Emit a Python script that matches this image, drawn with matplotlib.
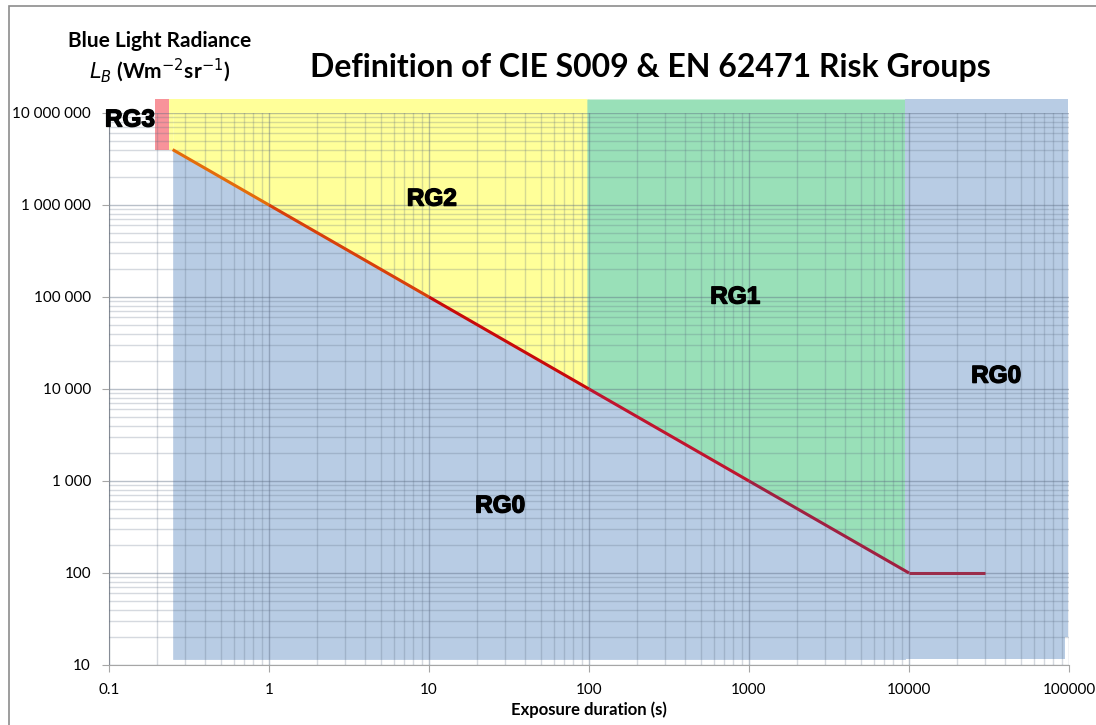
import numpy as np
import matplotlib.pyplot as plt
import matplotlib.patheffects as pe
from matplotlib.patches import Rectangle

# limit line L_B = 1e6 / t  (t in s), flat at 100 after 10 000 s
t_lim = [0.25, 1, 10, 100, 1000, 10000, 30000]
L_lim = [4000000, 1000000, 100000, 10000, 1000, 100, 100]
seg_colors = ['#E46C0A', '#D8400A', '#C80A0A', '#C0142E', '#A02040', '#9B2D4A']

# risk group areas (x range, y range)
rg3_x = [0.195, 0.238]
rg3_y = [4000000, 14200000]
rg2_x = [0.238, 97]
rg1_x = [97, 9500]
rg0_right_x = [9500, 100000]
top_y = 14200000
bottom_y = 11.5

rg_labels = ["RG3", "RG2", "RG1", "RG0", "RG0"]
rg_pos = [(0.135, 8400000), (10.4, 1160000), (818, 100000), (35000, 13800), (27.8, 535)]

xticks = [0.1, 1, 10, 100, 1000, 10000, 100000]
xtick_labels = ["0.1", "1", "10", "100", "1000", "10000", "100000"]
yticks = [10, 100, 1000, 10000, 100000, 1000000, 10000000]
ytick_labels = ["10", "100", "1 000", "10 000", "100 000", "1 000 000", "10 000 000"]

plt.rcParams['font.family'] = ['Lato', 'DejaVu Sans']

fig = plt.figure(figsize=(10.96, 7.25), dpi=100)
ax = fig.add_axes([109/1096, 1 - 665/725, 960/1096, 552/725])
ax.set_xscale('log')
ax.set_yscale('log')
ax.set_xlim(0.1, 100000)
ax.set_ylim(10, 10000000)

# fills
blue = '#B8CCE4'
yellow = '#FFFF99'
ax.fill_between(rg2_x, [top_y, top_y], [1e7, 1e7], color=yellow, lw=0, zorder=0, clip_on=False)
ax.fill_between([rg2_x[0], t_lim[0]], [top_y, top_y], [L_lim[0], L_lim[0]], color=yellow, lw=0, zorder=0)
ax.fill_between(t_lim[:4], [top_y] * 4, L_lim[:4], color=yellow, lw=0, zorder=0, clip_on=False)
ax.fill_between([rg1_x[0], 100, 1000, rg1_x[1]], [top_y] * 4,
                [L_lim[3] * 100 / rg1_x[0], L_lim[3], L_lim[4], 1e6 / rg1_x[1]],
                color='#99E0B8', lw=0, zorder=0, clip_on=False)
ax.fill_between(t_lim[:6] + [rg0_right_x[0]], [bottom_y] * 7, L_lim[:6] + [1e6 / rg0_right_x[0]],
                color=blue, lw=0, zorder=0)
ax.fill_between([rg0_right_x[0], 95000], [bottom_y, bottom_y], [top_y, top_y], color=blue, lw=0, zorder=0, clip_on=False)
ax.fill_between([95000, rg0_right_x[1] * 0.985], [20, 20], [top_y, top_y], color=blue, lw=0, zorder=0, clip_on=False)
ax.fill_between(rg3_x, [rg3_y[0]] * 2, [rg3_y[1]] * 2, color='#F8939A', lw=0, zorder=0, clip_on=False)

# grid over fills
ax.set_axisbelow(False)
ax.grid(which='major', color='#5A6A80', alpha=0.42, lw=1.0, zorder=1)
ax.grid(which='minor', color='#5A6A80', alpha=0.25, lw=1.0, zorder=1)

# limit line
for i in range(len(t_lim) - 1):
    ax.plot(t_lim[i:i + 2], L_lim[i:i + 2], color=seg_colors[i], lw=2.2, zorder=3, solid_capstyle='butt')

for lab, (x, y) in zip(rg_labels, rg_pos):
    ax.text(x, y, lab, family='Liberation Sans', fontweight='bold', fontsize=17.5,
            ha='center', va='center', zorder=4,
            path_effects=[pe.withStroke(linewidth=1.0, foreground='black')])

ax.set_xticks(xticks, labels=xtick_labels)
ax.set_yticks(yticks, labels=ytick_labels)
ax.tick_params(which='major', length=5, color='#A6A6A6', labelsize=11, pad=8)
ax.tick_params(which='minor', length=0)
for s in ['top', 'right']:
    ax.spines[s].set_visible(False)
for s in ['left', 'bottom']:
    ax.spines[s].set_color('#A6A6A6')

ax.set_xlabel("Exposure duration (s)", fontweight='bold', fontsize=12, labelpad=3)

fig.text(650/1096, 1 - 68/725, "Definition of CIE S009 & EN 62471 Risk Groups",
         fontsize=23, fontweight='bold', ha='center', va='center')
fig.text(160/1096, 1 - 41/725, "Blue Light Radiance", fontsize=15, fontweight='bold',
         ha='center', va='center')
fig.text(160/1096, 1 - 71/725, r"$\it{L_B}$ (Wm$^{-2}$sr$^{-1}$)", fontsize=15,
         fontweight='bold', ha='center', va='center')

fig.patches.append(Rectangle((9/1096, -0.1), 1.2, 1 - 6/725 + 0.1, transform=fig.transFigure,
                             fill=False, edgecolor='#8C8C8C', lw=1.2))

fig.savefig("out.png", dpi=100)
